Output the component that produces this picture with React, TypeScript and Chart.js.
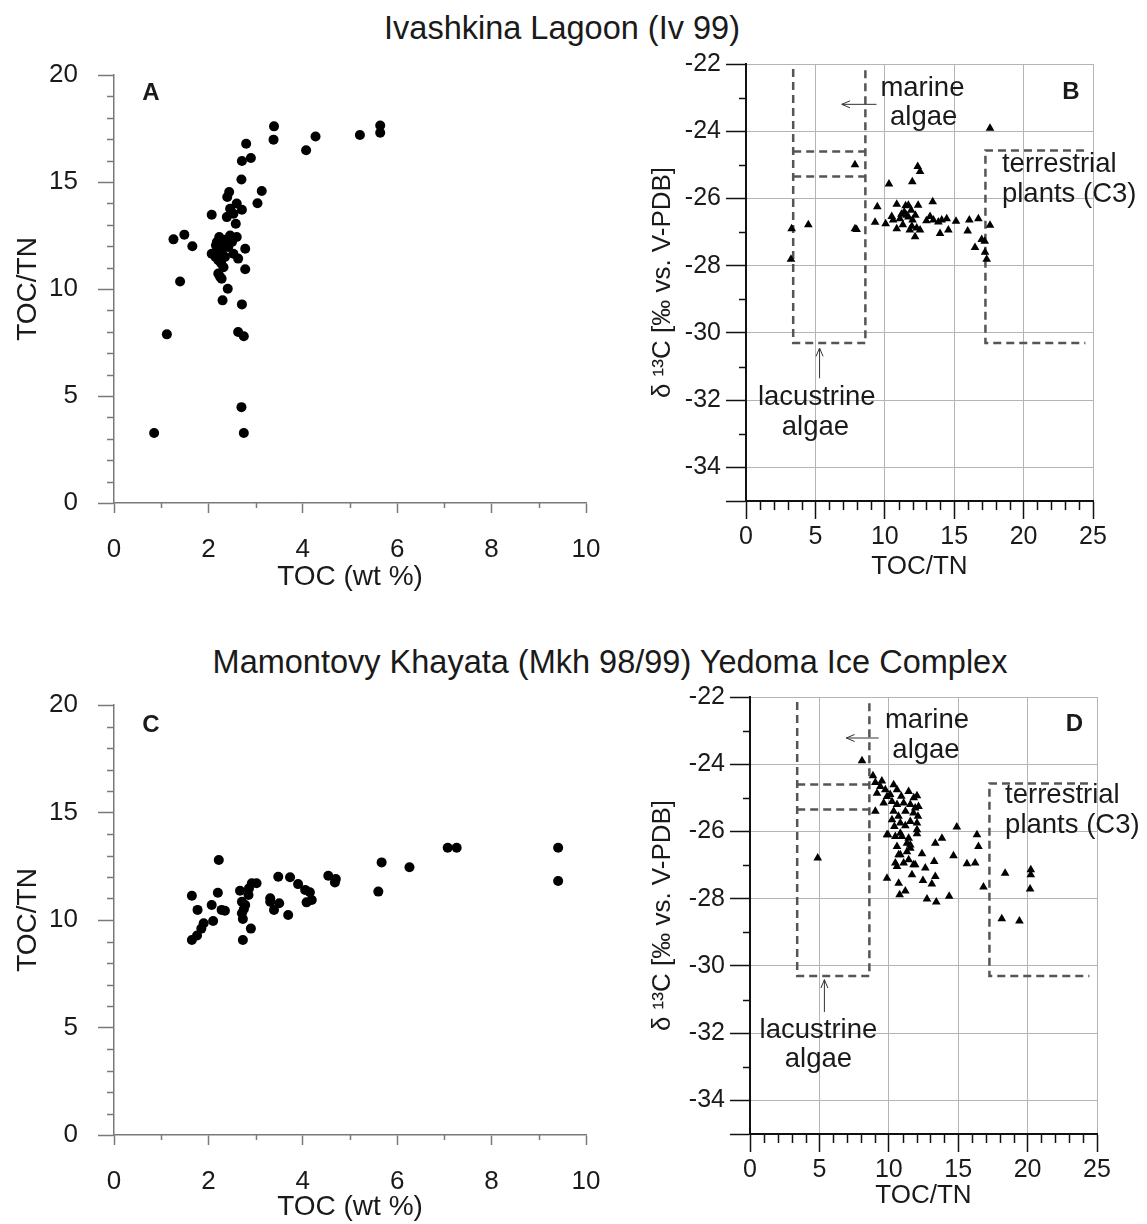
import React, { useEffect, useRef } from "react";
import { Chart, registerables } from "chart.js";

Chart.register(...registerables);

const FONT = "'Liberation Sans', Arial, Helvetica, sans-serif";

type Pt = [number, number];

// ---------------- Data ----------------
// Panel A: Ivashkina Lagoon, TOC (wt %) vs TOC/TN
const IV_TOC_TOCTN: Pt[] = [
  [3.39, 17.6], [3.38, 16.98], [4.27, 17.13], [4.07, 16.48], [5.21, 17.2], [5.64, 17.64], [5.64, 17.3],
  [2.8, 16.79], [2.9, 16.12], [2.71, 15.98], [2.7, 15.12], [3.13, 14.58], [3.04, 14.01], [2.44, 14.53],
  [2.4, 14.3], [2.6, 13.99], [2.46, 13.75], [2.71, 13.7], [2.07, 13.47], [2.39, 13.36], [2.58, 13.05],
  [2.53, 13.52], [1.26, 12.32], [1.49, 12.54], [1.66, 12.0], [2.46, 12.5], [2.6, 12.43], [2.23, 12.43],
  [2.78, 11.88], [2.07, 11.65], [2.16, 12.04], [2.28, 11.8], [2.42, 11.96], [2.53, 11.65], [2.63, 11.42],
  [2.21, 11.34], [2.32, 11.02], [2.78, 10.92], [2.21, 10.72], [1.4, 10.35], [2.28, 10.48], [2.25, 10.56],
  [2.41, 10.01], [2.3, 9.47], [2.71, 9.28], [1.12, 7.88], [2.63, 7.99], [2.75, 7.79], [2.7, 4.48],
  [0.85, 3.27], [2.75, 3.27], [2.18, 12.2], [2.25, 12.1], [2.3, 11.6], [2.35, 11.5], [2.2, 11.9],
  [2.27, 11.2], [2.15, 11.5], [2.35, 12.3], [2.5, 12.2],
];

// Panel B: Ivashkina Lagoon, TOC/TN vs d13C
const IV_TOCTN_D13C: Pt[] = [
  [17.58, -23.91], [7.85, -25.0], [12.37, -25.05], [12.54, -25.2], [10.3, -25.57], [11.98, -25.5],
  [9.46, -26.25], [10.86, -26.17], [11.7, -26.2], [12.4, -26.2], [13.45, -26.1], [9.3, -26.71],
  [10.06, -26.75], [10.5, -26.54], [10.86, -26.9], [11.8, -26.94], [12.18, -27.14], [12.54, -26.94],
  [13.26, -26.54], [13.5, -26.64], [13.86, -26.7], [14.1, -26.64], [14.46, -26.6], [14.58, -26.94],
  [13.98, -27.04], [15.13, -26.68], [16.09, -26.64], [16.74, -26.6], [15.97, -26.97], [17.58, -26.8],
  [16.98, -27.22], [17.2, -27.27], [16.5, -27.46], [17.22, -27.6], [17.34, -27.81], [3.29, -26.9],
  [4.49, -26.78], [7.85, -26.9], [7.97, -26.92], [3.24, -27.81], [11.4, -26.4], [11.57, -26.5],
  [11.09, -26.6], [12.0, -26.64], [11.5, -26.22], [11.3, -26.78], [11.95, -26.83], [12.3, -26.88],
  [10.6, -26.64], [11.2, -26.47], [13.0, -26.66], [11.7, -26.55], [11.9, -26.35], [12.2, -26.5],
];

// Panel C: Mamontovy Khayata, TOC (wt %) vs TOC/TN
const MKH_TOC_TOCTN: Pt[] = [
  [2.22, 12.79], [5.67, 12.68], [6.26, 12.45], [5.6, 11.32], [3.48, 12.01], [3.73, 11.99], [4.54, 12.06],
  [4.7, 11.91], [4.68, 11.75], [3.9, 11.67], [4.05, 11.4], [4.15, 11.29], [4.19, 10.93], [4.08, 10.82],
  [3.02, 11.71], [2.92, 11.71], [2.86, 11.47], [2.67, 11.36], [2.85, 11.16], [2.2, 11.27], [1.65, 11.13],
  [3.31, 11.01], [3.31, 10.85], [3.5, 10.78], [2.71, 10.85], [2.78, 10.7], [2.07, 10.7], [1.77, 10.47],
  [2.28, 10.47], [2.35, 10.43], [3.39, 10.47], [3.69, 10.23], [2.71, 10.31], [7.07, 13.36], [7.26, 13.36],
  [9.41, 13.36], [9.41, 11.81], [1.65, 9.07], [1.76, 9.28], [1.85, 9.6], [1.9, 9.85], [2.1, 9.95],
  [2.73, 9.07], [2.9, 9.6], [2.73, 10.05], [2.75, 10.5],
];

// Panel D: Mamontovy Khayata, TOC/TN vs d13C
const MKH_TOCTN_D13C: Pt[] = [
  [8.07, -23.9], [8.86, -24.34], [9.03, -24.54], [9.39, -24.66], [9.15, -24.86], [9.75, -24.76],
  [10.35, -24.61], [10.59, -24.76], [11.43, -24.81], [12.03, -24.94], [9.87, -24.96], [10.23, -25.11],
  [9.63, -25.15], [10.59, -25.2], [11.07, -25.15], [11.55, -25.2], [12.14, -25.26], [9.03, -25.4],
  [10.35, -25.4], [11.78, -25.45], [10.23, -25.65], [10.83, -25.75], [11.55, -25.7], [12.03, -25.75],
  [10.4, -25.85], [11.19, -25.83], [12.03, -25.95], [9.87, -26.1], [10.47, -26.15], [10.83, -26.05],
  [11.43, -26.2], [11.31, -26.35], [10.59, -26.45], [11.55, -26.5], [12.39, -26.66], [10.83, -26.69],
  [13.35, -26.35], [13.83, -26.2], [14.9, -25.87], [16.35, -26.1], [16.46, -26.45], [14.66, -26.72],
  [15.63, -26.96], [16.22, -26.94], [13.27, -26.89], [12.63, -27.09], [11.78, -26.99], [11.07, -26.94],
  [10.59, -27.04], [4.88, -26.79], [18.38, -27.24], [20.23, -27.14], [20.23, -27.29], [9.87, -27.39],
  [10.71, -27.54], [11.67, -27.29], [12.46, -27.46], [13.35, -27.34], [11.19, -27.77], [10.78, -27.88],
  [12.75, -28.01], [13.42, -28.1], [14.35, -27.93], [16.82, -27.65], [20.18, -27.71], [18.14, -28.6],
  [19.41, -28.66], [13.1, -27.56], [10.71, -26.69], [11.31, -26.6], [11.9, -26.99], [10.47, -26.94],
  [11.55, -26.4], [10.95, -26.15], [12.03, -26.07], [11.43, -26.84], [9.94, -26.1], [9.5, -24.5],
  [10.1, -24.9], [10.9, -24.95], [11.8, -25.0], [11.2, -25.4], [10.7, -25.55], [11.9, -25.3], [12.1, -25.55],
];

// Source-field boxes (TOC/TN, d13C)
const LACUSTRINE_BOX: Pt[] = [[3.4, -22.15], [3.4, -30.3], [8.6, -30.3], [8.6, -22.15]];
const MARINE_BOX_TOP: Pt[] = [[3.4, -24.6], [8.6, -24.6]];
const MARINE_BOX_BOTTOM: Pt[] = [[3.4, -25.35], [8.6, -25.35]];
const TERRESTRIAL_BOX: Pt[] = [[24.35, -24.57], [17.25, -24.57], [17.25, -30.3], [24.45, -30.3]];

// Tick values
const TOC_TICKS = [0, 2, 4, 6, 8, 10];
const TOC_MINOR: number[] = [1, 3, 5, 7, 9];
const TOCTN_TICKS = [0, 5, 10, 15, 20];
const TOCTN_MINOR = [1, 2, 3, 4, 6, 7, 8, 9, 11, 12, 13, 14, 16, 17, 18, 19];
const CN_TICKS = [0, 5, 10, 15, 20, 25];
const CN_MINOR = [1, 2, 3, 4, 6, 7, 8, 9, 11, 12, 13, 14, 16, 17, 18, 19, 21, 22, 23, 24];
const D13C_TICKS = [-35, -34, -32, -30, -28, -26, -24, -22];
const D13C_LABELS = [-34, -32, -30, -28, -26, -24, -22];
const D13C_MINOR = [-33, -31, -29, -27, -25, -23];

// ---------------- Specs ----------------
interface AxisSpec {
  min: number; max: number;
  ticks: number[]; labels: number[]; minor: number[];
  title: string;
  tickLength: number; minorLength: number; tickPadding: number; titlePad: number;
  tickFont: number; titleFont: number;
}
interface TextSpec { text: string; x: number; y: number; align: CanvasTextAlign; base: CanvasTextBaseline; bold?: boolean; size: number }
interface PanelSpec {
  key: string;
  canvas: { left: number; top: number; width: number; height: number };
  area: { left: number; right: number; top: number; bottom: number };
  x: AxisSpec; y: AxisSpec;
  framed: boolean;
  points: Pt[];
  pointStyle: "circle" | "triangle";
  boxes: Pt[][];
  texts: TextSpec[];
  arrows: { from: Pt; to: Pt }[];
}

const tocAxis = (titlePad: number): AxisSpec => ({
  min: 0, max: 10, ticks: TOC_TICKS, labels: TOC_TICKS, minor: TOC_MINOR, title: "TOC (wt %)",
  tickLength: 10, minorLength: 5, tickPadding: 21, titlePad, tickFont: 26, titleFont: 28,
});
const toctnAxis = (): AxisSpec => ({
  min: 0, max: 20, ticks: TOCTN_TICKS, labels: TOCTN_TICKS, minor: TOCTN_MINOR, title: "TOC/TN",
  tickLength: 16, minorLength: 7, tickPadding: 20, titlePad: 11.2, tickFont: 26, titleFont: 28,
});
const cnAxis = (titlePad: number): AxisSpec => ({
  min: 0, max: 25, ticks: CN_TICKS, labels: CN_TICKS, minor: CN_MINOR, title: "TOC/TN",
  tickLength: 18, minorLength: 9, tickPadding: 3, titlePad, tickFont: 25, titleFont: 26,
});
const d13cAxis = (): AxisSpec => ({
  min: -35, max: -22, ticks: D13C_TICKS, labels: D13C_LABELS, minor: D13C_MINOR,
  title: "\u03B4 \u00B9\u00B3C [\u2030 vs. V-PDB]",
  tickLength: 20, minorLength: 7, tickPadding: 5, titlePad: 7.4, tickFont: 25, titleFont: 26,
});

const SOURCE_BOXES = [LACUSTRINE_BOX, MARINE_BOX_TOP, MARINE_BOX_BOTTOM, TERRESTRIAL_BOX];

const PANELS: PanelSpec[] = [
  {
    key: "A",
    canvas: { left: 0, top: 40, width: 640, height: 560 },
    area: { left: 114, right: 586, top: 75, bottom: 503 },
    x: tocAxis(6.2), y: toctnAxis(), framed: false,
    points: IV_TOC_TOCTN, pointStyle: "circle", boxes: [],
    texts: [{ text: "A", x: 0.78, y: 19.15, align: "center", base: "middle", bold: true, size: 24 }],
    arrows: [],
  },
  {
    key: "B",
    canvas: { left: 640, top: 40, width: 507, height: 560 },
    area: { left: 746, right: 1093, top: 64, bottom: 501 },
    x: cnAxis(17.7), y: d13cAxis(), framed: true,
    points: IV_TOCTN_D13C, pointStyle: "triangle", boxes: SOURCE_BOXES,
    texts: [
      { text: "marine", x: 12.71, y: -22.95, align: "center", base: "alphabetic", size: 27.5 },
      { text: "algae", x: 12.8, y: -23.8, align: "center", base: "alphabetic", size: 27.5 },
      { text: "lacustrine", x: 5.1, y: -32.15, align: "center", base: "alphabetic", size: 27.5 },
      { text: "algae", x: 5.0, y: -33.05, align: "center", base: "alphabetic", size: 27.5 },
      { text: "terrestrial", x: 18.44, y: -25.2, align: "left", base: "alphabetic", size: 27.5 },
      { text: "plants (C3)", x: 18.44, y: -26.1, align: "left", base: "alphabetic", size: 27.5 },
      { text: "B", x: 23.4, y: -22.85, align: "center", base: "middle", bold: true, size: 24 },
    ],
    arrows: [
      { from: [9.4, -23.2], to: [6.9, -23.2] },
      { from: [5.3, -31.35], to: [5.3, -30.45] },
    ],
  },
  {
    key: "C",
    canvas: { left: 0, top: 670, width: 640, height: 554 },
    area: { left: 114, right: 586, top: 705, bottom: 1135 },
    x: tocAxis(0.2), y: toctnAxis(), framed: false,
    points: MKH_TOC_TOCTN, pointStyle: "circle", boxes: [],
    texts: [{ text: "C", x: 0.78, y: 19.07, align: "center", base: "middle", bold: true, size: 24 }],
    arrows: [],
  },
  {
    key: "D",
    canvas: { left: 640, top: 670, width: 507, height: 554 },
    area: { left: 750, right: 1097, top: 697, bottom: 1134 },
    x: cnAxis(12.4), y: d13cAxis(), framed: true,
    points: MKH_TOCTN_D13C, pointStyle: "triangle", boxes: SOURCE_BOXES,
    texts: [
      { text: "marine", x: 12.75, y: -22.92, align: "center", base: "alphabetic", size: 27.5 },
      { text: "algae", x: 12.68, y: -23.82, align: "center", base: "alphabetic", size: 27.5 },
      { text: "lacustrine", x: 4.93, y: -32.14, align: "center", base: "alphabetic", size: 27.5 },
      { text: "algae", x: 4.93, y: -33.0, align: "center", base: "alphabetic", size: 27.5 },
      { text: "terrestrial", x: 18.38, y: -25.15, align: "left", base: "alphabetic", size: 27.5 },
      { text: "plants (C3)", x: 18.38, y: -26.05, align: "left", base: "alphabetic", size: 27.5 },
      { text: "D", x: 23.38, y: -22.8, align: "center", base: "middle", bold: true, size: 24 },
    ],
    arrows: [
      { from: [9.27, -23.22], to: [6.94, -23.22] },
      { from: [5.36, -31.37], to: [5.36, -30.41] },
    ],
  },
];

// ---------------- Chart building ----------------
function makeExtras(p: PanelSpec, axisColor: string) {
  return {
    id: "extras_" + p.key,
    afterDraw(chart: any) {
      const ctx: CanvasRenderingContext2D = chart.ctx;
      const xs = chart.scales.x;
      const ys = chart.scales.y;
      ctx.save();
      // minor ticks
      ctx.strokeStyle = axisColor;
      ctx.lineWidth = 1.5;
      ctx.beginPath();
      for (const v of p.y.minor) {
        const py = Math.round(ys.getPixelForValue(v)) + 0.5;
        ctx.moveTo(ys.right - p.y.minorLength, py);
        ctx.lineTo(ys.right, py);
      }
      for (const v of p.x.minor) {
        const px = Math.round(xs.getPixelForValue(v)) + 0.5;
        ctx.moveTo(px, xs.top);
        ctx.lineTo(px, xs.top + p.x.minorLength);
      }
      ctx.stroke();
      // arrows
      ctx.strokeStyle = "#333";
      ctx.lineWidth = 1;
      for (const a of p.arrows) {
        const x1 = xs.getPixelForValue(a.from[0]);
        const y1 = ys.getPixelForValue(a.from[1]);
        const x2 = xs.getPixelForValue(a.to[0]);
        const y2 = ys.getPixelForValue(a.to[1]);
        const ang = Math.atan2(y2 - y1, x2 - x1);
        const hl = 9;
        ctx.beginPath();
        ctx.moveTo(x1, y1);
        ctx.lineTo(x2, y2);
        ctx.moveTo(x2 - hl * Math.cos(ang - 0.4), y2 - hl * Math.sin(ang - 0.4));
        ctx.lineTo(x2, y2);
        ctx.lineTo(x2 - hl * Math.cos(ang + 0.4), y2 - hl * Math.sin(ang + 0.4));
        ctx.stroke();
      }
      // texts
      ctx.fillStyle = "#1a1a1a";
      for (const t of p.texts) {
        ctx.font = `${t.bold ? "bold " : ""}${t.size}px ${FONT}`;
        ctx.textAlign = t.align;
        ctx.textBaseline = t.base;
        ctx.fillText(t.text, xs.getPixelForValue(t.x), ys.getPixelForValue(t.y));
      }
      ctx.restore();
    },
  };
}

function makeConfig(p: PanelSpec): any {
  const axisColor = p.framed ? "#111111" : "#7a7a7a";
  const axisWidth = p.framed ? 2 : 1.5;
  const padTop = p.area.top - p.canvas.top;
  const padRight = p.canvas.left + p.canvas.width - p.area.right;
  const yWidth = p.area.left - p.canvas.left;
  const xHeight = p.canvas.top + p.canvas.height - p.area.bottom;

  const scale = (a: AxisSpec, isX: boolean) => ({
    type: "linear",
    position: isX ? "bottom" : "left",
    min: a.min,
    max: a.max,
    afterBuildTicks: (s: any) => {
      s.ticks = a.ticks.map((v) => ({ value: v }));
    },
    afterFit: (s: any) => {
      if (isX) s.height = xHeight;
      else s.width = yWidth;
      s.paddingLeft = 0;
      s.paddingRight = 0;
      s.paddingTop = 0;
      s.paddingBottom = 0;
    },
    grid: {
      display: true,
      drawOnChartArea: p.framed,
      color: "#b4b4b4",
      lineWidth: 1,
      drawTicks: true,
      tickLength: a.tickLength,
      tickColor: axisColor,
      tickWidth: 1.5,
    },
    border: { display: true, color: axisColor, width: axisWidth },
    ticks: {
      autoSkip: false,
      maxRotation: 0,
      minRotation: 0,
      padding: a.tickPadding,
      color: "#1a1a1a",
      font: { family: FONT, size: a.tickFont },
      callback: (v: number) => (a.labels.includes(v) ? String(v) : ""),
    },
    title: {
      display: true,
      text: a.title,
      color: "#1a1a1a",
      font: { family: FONT, size: a.titleFont },
      padding: isX ? { top: 0, bottom: a.titlePad } : { top: a.titlePad, bottom: 0 },
    },
  });

  const datasets: any[] = [
    {
      data: p.points.map(([x, y]) => ({ x, y })),
      pointStyle: p.pointStyle,
      pointRadius: 5,
      pointHoverRadius: 5,
      pointBackgroundColor: "#000",
      pointBorderColor: "#000",
      pointBorderWidth: 0,
      showLine: false,
    },
    ...p.boxes.map((b) => ({
      data: b.map(([x, y]) => ({ x, y })),
      showLine: true,
      borderColor: "#555555",
      borderWidth: 2.5,
      borderDash: [8, 5],
      pointRadius: 0,
      pointHoverRadius: 0,
      fill: false,
      tension: 0,
    })),
  ];

  return {
    type: "scatter",
    data: { datasets },
    options: {
      responsive: false,
      maintainAspectRatio: false,
      devicePixelRatio: 1,
      animation: false,
      events: [],
      layout: { autoPadding: false, padding: { left: 0, top: padTop, right: padRight, bottom: 0 } },
      plugins: { legend: { display: false }, tooltip: { enabled: false }, title: { display: false } },
      scales: { x: scale(p.x, true), y: scale(p.y, false) },
    },
    plugins: [makeExtras(p, axisColor)],
  };
}

function Panel({ spec }: { spec: PanelSpec }) {
  const ref = useRef<HTMLCanvasElement>(null);
  useEffect(() => {
    if (!ref.current) return;
    const chart = new Chart(ref.current, makeConfig(spec));
    return () => chart.destroy();
  }, [spec]);
  const c = spec.canvas;
  return (
    <canvas
      ref={ref}
      width={c.width}
      height={c.height}
      style={{ position: "absolute", left: c.left, top: c.top, width: c.width, height: c.height }}
    />
  );
}

const TITLES = [
  { text: "Ivashkina Lagoon (Iv 99)", cx: 562, cy: 28 },
  { text: "Mamontovy Khayata (Mkh 98/99) Yedoma Ice Complex", cx: 610, cy: 662 },
];
const TITLE_SIZE = 32.5;

export default function App() {
  return (
    <div
      style={{
        position: "absolute",
        left: 0,
        top: 0,
        width: 1147,
        height: 1224,
        background: "#fff",
        overflow: "hidden",
        fontFamily: FONT,
      }}
    >
      {TITLES.map((t) => (
        <div
          key={t.text}
          style={{
            position: "absolute",
            left: t.cx,
            top: t.cy - TITLE_SIZE / 2,
            transform: "translateX(-50%)",
            whiteSpace: "nowrap",
            fontSize: TITLE_SIZE,
            lineHeight: `${TITLE_SIZE}px`,
            color: "#1a1a1a",
          }}
        >
          {t.text}
        </div>
      ))}
      {PANELS.map((p) => (
        <Panel key={p.key} spec={p} />
      ))}
    </div>
  );
}
